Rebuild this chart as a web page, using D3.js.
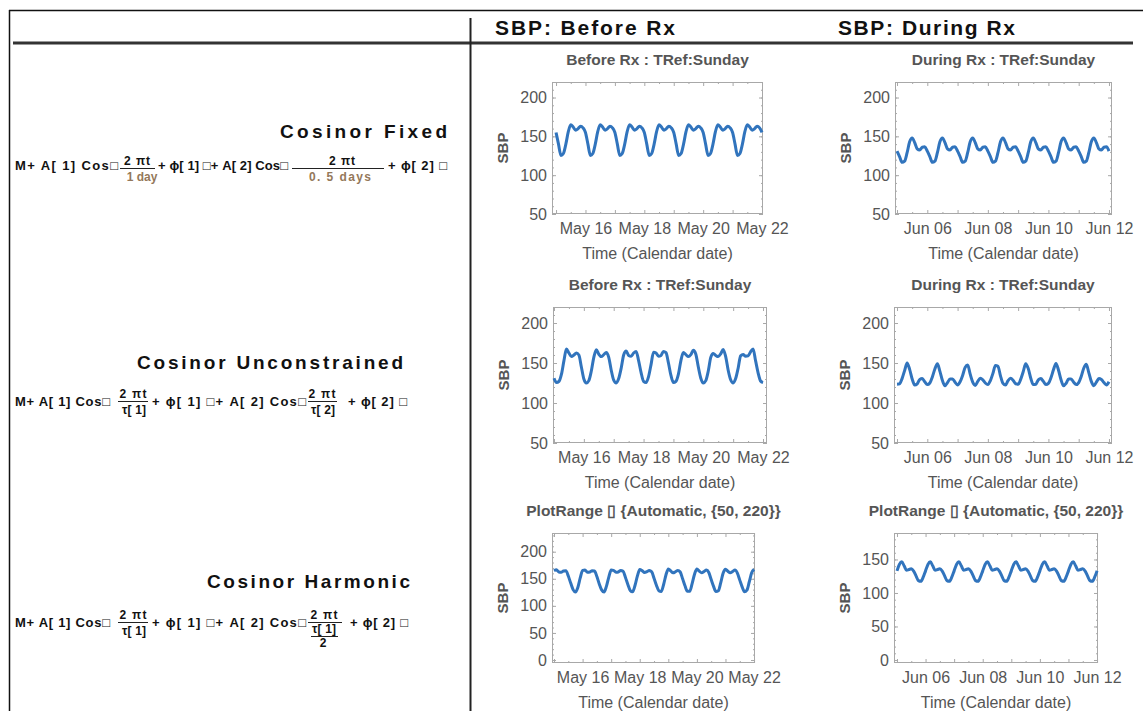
<!DOCTYPE html>
<html>
<head>
<meta charset="utf-8">
<script src="https://cdn.jsdelivr.net/npm/d3@7"></script>
<style>
  html, body { margin: 0; padding: 0; background: #fff; }
  svg { display: block; font-family: "Liberation Sans", Arial, sans-serif; }
</style>
</head>
<body>
<svg id="chart" width="1143" height="711"></svg>
<script>
// one sample every 2 hours over a week
const sampleHours = d3.range(0, 169, 2);

const beforeStart = new Date(2016, 4, 15);
const duringStart = new Date(2016, 5, 5);

// SBP fitted curves, one row per day (12 x 2h) + end value
const fixedBefore = [
  155, 140, 125.5, 128, 140, 156, 165, 162, 158, 160, 163, 161,
  155, 140, 125.5, 128, 140, 156, 165, 162, 158, 160, 163, 161,
  155, 140, 125.5, 128, 140, 156, 165, 162, 158, 160, 163, 161,
  155, 140, 125.5, 128, 140, 156, 165, 162, 158, 160, 163, 161,
  155, 140, 125.5, 128, 140, 156, 165, 162, 158, 160, 163, 161,
  155, 140, 125.5, 128, 140, 156, 165, 162, 158, 160, 163, 161,
  155, 140, 125.5, 128, 140, 156, 165, 162, 158, 160, 163, 161,
  155
];
const fixedDuring = [
  131, 124, 116.5, 118, 129, 143, 148, 142, 134, 132.5, 136, 136.5,
  131, 124, 116.5, 118, 129, 143, 148, 142, 134, 132.5, 136, 136.5,
  131, 124, 116.5, 118, 129, 143, 148, 142, 134, 132.5, 136, 136.5,
  131, 124, 116.5, 118, 129, 143, 148, 142, 134, 132.5, 136, 136.5,
  131, 124, 116.5, 118, 129, 143, 148, 142, 134, 132.5, 136, 136.5,
  131, 124, 116.5, 118, 129, 143, 148, 142, 134, 132.5, 136, 136.5,
  131, 124, 116.5, 118, 129, 143, 148, 142, 134, 132.5, 136, 136.5,
  131
];
const unconBefore = [
  131, 125.5, 127, 136, 153, 167.5, 162.5, 158, 160, 162.5, 160, 145,
  130, 125, 128, 140, 157, 166.5, 161, 158, 160.5, 163, 157, 141,
  128.5, 125, 130.5, 143.5, 160, 165, 159.5, 158.5, 162.5, 164.5, 153, 138,
  127, 125.5, 133, 148, 163.5, 162.5, 158.5, 159.5, 164.5, 163, 150, 134.5,
  125.5, 127, 136, 153, 163, 160.5, 158, 160.5, 166, 161, 145, 131,
  125, 128, 140, 157, 162, 159.5, 158, 161.5, 167, 158, 141, 129,
  125, 130.5, 143.5, 159, 160.5, 158.5, 159, 164, 167.5, 153, 138, 127.5,
  125.5
];
const unconDuring = [
  123.5, 124, 130.5, 140.5, 150, 142, 130, 122.5, 124, 129.5, 130.5, 126.5,
  123, 125, 132.5, 142.5, 149, 139.5, 128, 121.5, 125.5, 130, 130, 126,
  122.5, 126.5, 134.5, 144.5, 147.5, 136, 126, 122, 127, 131, 129, 125,
  123, 128, 137, 147, 146, 134, 124.5, 122.5, 128, 131, 128.5, 124,
  123.5, 129.5, 139, 149, 143, 131, 123, 123.5, 129, 130.5, 127, 123,
  124.5, 131.5, 141.5, 149.5, 141, 129, 121.5, 124.5, 130, 130, 126, 123,
  125.5, 133, 143.5, 148.5, 138, 127, 121.5, 126, 130.5, 129.5, 125.5, 122.5,
  126.5
];
const harmBefore = [
  164.8, 166.5, 162.5, 162, 164.5, 165, 155, 142, 130, 125.5, 134, 151.5,
  165.5, 166, 162, 162.5, 165, 164.5, 154, 140.5, 129.5, 125.5, 136, 153,
  166, 165.5, 162, 162.5, 165.5, 164, 152.5, 139.5, 128.5, 126, 137.5, 155,
  167, 165, 161.5, 163, 165.5, 163, 151, 138, 128, 126.5, 139, 157,
  168, 164.5, 161, 163, 165.5, 162.5, 150, 137, 127, 127, 141, 158.5,
  168, 164, 161, 163.5, 166, 161.5, 148.5, 136, 126.5, 128, 142.5, 160,
  167.5, 164, 161, 163.5, 166, 160.5, 147.5, 135, 126, 129, 144.5, 161,
  167.5
];
const harmDuring = [
  133, 142.5, 146.5, 140.5, 134, 135, 136, 132.5, 125.5, 118.5, 117.5, 123.5,
  133, 142.5, 146.5, 140.5, 134, 135, 136, 132.5, 125.5, 118.5, 117.5, 123.5,
  133, 142.5, 146.5, 140.5, 134, 135, 136, 132.5, 125.5, 118.5, 117.5, 123.5,
  133, 142.5, 146.5, 140.5, 134, 135, 136, 132.5, 125.5, 118.5, 117.5, 123.5,
  133, 142.5, 146.5, 140.5, 134, 135, 136, 132.5, 125.5, 118.5, 117.5, 123.5,
  133, 142.5, 146.5, 140.5, 134, 135, 136, 132.5, 125.5, 118.5, 117.5, 123.5,
  133, 142.5, 146.5, 140.5, 134, 135, 136, 132.5, 125.5, 118.5, 117.5, 123.5,
  133
];

const ticksTo200 = [50, 100, 150, 200];
const ticksFrom0 = [0, 50, 100, 150, 200];
const ticksFrom0To150 = [0, 50, 100, 150];

const titleSunBefore = 'Before Rx : TRef:Sunday';
const titleSunDuring = 'During Rx : TRef:Sunday';
const titleRange = 'PlotRange \u25AF {Automatic, {50, 220}}';

// layout of the six small plots
const panels = [
  { title: titleSunBefore, start: beforeStart, values: fixedBefore, yDomain: [50, 220], yTicks: ticksTo200, frame: [552, 82, 763, 214], pad: [3.3, 0.8] },
  { title: titleSunDuring, start: duringStart, values: fixedDuring, yDomain: [50, 220], yTicks: ticksTo200, frame: [895, 82, 1112, 214], pad: [1.6, 2.4] },
  { title: titleSunBefore, start: beforeStart, values: unconBefore, yDomain: [50, 220], yTicks: ticksTo200, frame: [553, 307, 767, 443], pad: [0.8, 3.2] },
  { title: titleSunDuring, start: duringStart, values: unconDuring, yDomain: [50, 220], yTicks: ticksTo200, frame: [894, 307, 1112, 443], pad: [2.4, 2.4] },
  { title: titleRange, start: beforeStart, values: harmBefore, yDomain: [-5.5, 234.5], yTicks: ticksFrom0, frame: [552, 533, 755, 663], pad: [1.7, 0.8] },
  { title: titleRange, start: duringStart, values: harmDuring, yDomain: [-4.5, 189.5], yTicks: ticksFrom0To150, frame: [894, 533, 1098, 663], pad: [2.5, 0.8] },
];

const svg = d3.select('#chart');
const frameColor = '#a8a8a8';
const labelColor = '#555';
const lineColor = '#3174bd';

// table rules
svg.append('line').attr('x1', 9).attr('y1', 10.5).attr('x2', 1143).attr('y2', 10.5)
  .attr('stroke', '#111').attr('stroke-width', 1.5);
svg.append('line').attr('x1', 9.5).attr('y1', 10).attr('x2', 9.5).attr('y2', 711)
  .attr('stroke', '#111').attr('stroke-width', 1.5);
svg.append('line').attr('x1', 13).attr('y1', 43).attr('x2', 1133).attr('y2', 43)
  .attr('stroke', '#333').attr('stroke-width', 3);
svg.append('line').attr('x1', 470.5).attr('y1', 18).attr('x2', 470.5).attr('y2', 711)
  .attr('stroke', '#222').attr('stroke-width', 2);

const txt = (x, y, s, o = {}) => {
  const t = svg.append('text').attr('x', x).attr('y', y).text(s)
    .attr('font-size', o.size || 12)
    .attr('font-weight', o.weight || 'normal')
    .attr('fill', o.fill || '#111')
    .attr('text-anchor', o.anchor || 'start');
  if (o.len) t.attr('textLength', o.len).attr('lengthAdjust', 'spacing');
  return t;
};

// column headers
txt(495, 35, 'SBP:  Before Rx', { size: 21, weight: 'bold', len: 180 });
txt(838, 35, 'SBP:  During Rx', { size: 21, weight: 'bold', len: 177 });

// model names
txt(280, 138, 'Cosinor  Fixed', { size: 19, weight: 'bold', len: 167 });
txt(137, 369, 'Cosinor  Unconstrained', { size: 19, weight: 'bold', len: 266 });
txt(207, 588, 'Cosinor  Harmonic', { size: 19, weight: 'bold', len: 203 });

// formulas
const brown = '#94785a';
const bar = (xa, xb, y) => svg.append('line').attr('x1', xa).attr('x2', xb)
  .attr('y1', y).attr('y2', y).attr('stroke', '#222').attr('stroke-width', 1);
const fsz = { size: 13, weight: 'bold' };
const nsz = { size: 12, weight: 'bold', anchor: 'middle' };

// Cosinor Fixed
txt(15, 170, 'M+ A[ 1] Cos\u25A1', { ...fsz, len: 103 });
txt(137, 165, '2 \u03C0t', { ...nsz, len: 26 });
bar(120, 155, 168.5);
txt(142, 181, '1 day', { ...nsz, fill: brown });
txt(158, 170, '+ \u03D5[ 1] \u25A1+ A[ 2] Cos\u25A1', { ...fsz, len: 130 });
txt(342, 165, '2 \u03C0t', { ...nsz, len: 26 });
bar(292, 384, 168.5);
txt(340, 181, '0. 5 days', { ...nsz, fill: brown, len: 62 });
txt(388, 170, '+ \u03D5[ 2] \u25A1', { ...fsz, len: 59 });

// Cosinor Unconstrained
txt(15, 406, 'M+ A[ 1] Cos\u25A1', { ...fsz, len: 95 });
txt(133, 398, '2 \u03C0t', { ...nsz, len: 27 });
bar(118, 148, 401.5);
txt(134, 414, '\u03C4[ 1]', { ...nsz, len: 24 });
txt(152, 406, '+ \u03D5[ 1] \u25A1+ A[ 2] Cos\u25A1', { ...fsz, len: 154 });
txt(322, 398, '2 \u03C0t', { ...nsz, len: 27 });
bar(308, 337, 401.5);
txt(323, 414, '\u03C4[ 2]', { ...nsz, len: 24 });
txt(348, 406, '+ \u03D5[ 2] \u25A1', { ...fsz, len: 59 });

// Cosinor Harmonic
txt(15, 627, 'M+ A[ 1] Cos\u25A1', { ...fsz, len: 95 });
txt(133, 619, '2 \u03C0t', { ...nsz, len: 27 });
bar(118, 148, 622.5);
txt(134, 635, '\u03C4[ 1]', { ...nsz, len: 24 });
txt(152, 627, '+ \u03D5[ 1] \u25A1+ A[ 2] Cos\u25A1', { ...fsz, len: 154 });
txt(324, 619, '2 \u03C0t', { ...nsz, len: 27 });
bar(308, 342, 622.5);
txt(324, 633, '\u03C4[ 1]', { ...nsz, len: 24 });
bar(311, 338, 636.5);
txt(323, 647, '2', { ...nsz });
txt(350, 627, '+ \u03D5[ 2] \u25A1', { ...fsz, len: 58 });

const styleAxis = (sel) => {
  sel.select('.domain').remove();
  sel.selectAll('line').attr('stroke', frameColor);
  sel.selectAll('text').attr('fill', labelColor).attr('font-size', 16)
    .attr('font-family', '"Liberation Sans", Arial, sans-serif');
};

const drawPanel = (p) => {
  const [x0, y0, x1, y1] = p.frame;
  const tEnd = d3.timeHour.offset(p.start, 168);
  const x = d3.scaleTime()
    .domain([new Date(+p.start - p.pad[0] * 3600e3), new Date(+tEnd + p.pad[1] * 3600e3)])
    .range([x0, x1]);
  const y = d3.scaleLinear().domain(p.yDomain).range([y1, y0]);
  const g = svg.append('g');

  const days = d3.timeDay.range(p.start, new Date(+tEnd + 1));
  const halfDays = d3.timeHour.every(12).range(p.start, tEnd).filter((d) => d.getHours() === 12);
  const labelDays = d3.timeDay.range(d3.timeDay.offset(p.start, 1), new Date(+tEnd + 1), 2);
  const yMinor = d3.range(Math.ceil(p.yDomain[0] / 10) * 10, p.yDomain[1], 10);

  // ticks on all four sides, pointing inward
  const sides = [
    [() => d3.axisBottom(x), `translate(0,${y1})`, days, halfDays],
    [() => d3.axisTop(x), `translate(0,${y0})`, days, halfDays],
    [() => d3.axisLeft(y), `translate(${x0},0)`, p.yTicks, yMinor],
    [() => d3.axisRight(y), `translate(${x1},0)`, p.yTicks, yMinor],
  ];
  sides.forEach(([mk, tr, major, minor]) => {
    g.append('g').attr('transform', tr)
      .call(mk().tickValues(minor).tickSize(-2).tickFormat('')).call(styleAxis);
    g.append('g').attr('transform', tr)
      .call(mk().tickValues(major).tickSize(-4).tickFormat('')).call(styleAxis);
  });

  // tick labels
  g.append('g').attr('transform', `translate(0,${y1})`)
    .call(d3.axisBottom(x).tickValues(labelDays).tickSize(0).tickPadding(9)
      .tickFormat(d3.timeFormat('%b %d')))
    .call(styleAxis);
  g.append('g').attr('transform', `translate(${x0},0)`)
    .call(d3.axisLeft(y).tickValues(p.yTicks).tickSize(0).tickPadding(5))
    .call(styleAxis);

  g.append('rect').attr('x', x0 + 0.5).attr('y', y0 + 0.5)
    .attr('width', x1 - x0 - 1).attr('height', y1 - y0 - 1)
    .attr('fill', 'none').attr('stroke', frameColor);

  const pts = sampleHours.map((h, i) => ({ t: d3.timeHour.offset(p.start, h), v: p.values[i] }));
  g.append('path').datum(pts)
    .attr('fill', 'none').attr('stroke', lineColor).attr('stroke-width', 3)
    .attr('stroke-linejoin', 'round')
    .attr('d', d3.line().x((d) => x(d.t)).y((d) => y(d.v)).curve(d3.curveMonotoneX));

  const cx = (x0 + x1) / 2;
  g.append('text').attr('x', cx).attr('y', y0 - 17).attr('text-anchor', 'middle')
    .attr('font-size', 15.5).attr('font-weight', 'bold').attr('fill', labelColor).text(p.title);
  g.append('text').attr('x', cx).attr('y', y1 + 45).attr('text-anchor', 'middle')
    .attr('font-size', 16).attr('fill', labelColor).text('Time (Calendar date)');
  g.append('text').attr('transform', `translate(${x0 - 44},${(y0 + y1) / 2}) rotate(-90)`)
    .attr('text-anchor', 'middle').attr('font-size', 15).attr('font-weight', 'bold')
    .attr('fill', labelColor).text('SBP');
};

panels.forEach(drawPanel);
</script>
</body>
</html>
